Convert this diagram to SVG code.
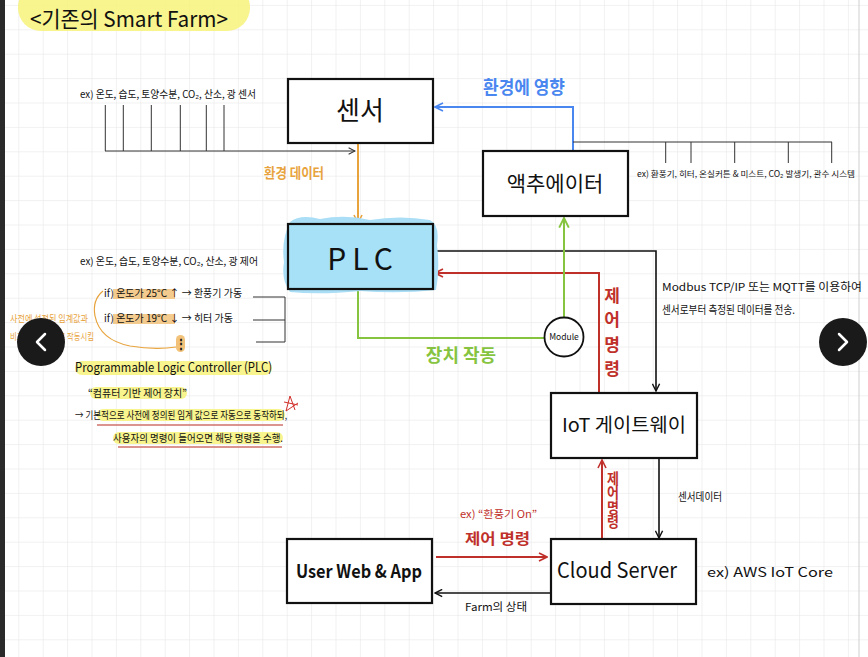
<svg xmlns="http://www.w3.org/2000/svg" width="868" height="657" viewBox="0 0 868 657">
<defs>
<pattern id="grid" x="18.3" y="4.9" width="24.4" height="24.4" patternUnits="userSpaceOnUse">
<path d="M0 0 H24.4 M0 0 V24.4" fill="none" stroke="#e4e4e4" stroke-width="1"/>
</pattern>
<marker id="aBlack" viewBox="0 0 10 10" refX="9" refY="5" markerWidth="9" markerHeight="9" markerUnits="userSpaceOnUse" orient="auto"><path d="M1,1 L9,5 L1,9" fill="none" stroke="#111" stroke-width="1.6"/></marker>
<marker id="aGray" viewBox="0 0 10 10" refX="9" refY="5" markerWidth="8" markerHeight="8" markerUnits="userSpaceOnUse" orient="auto"><path d="M1,1 L9,5 L1,9" fill="none" stroke="#333" stroke-width="1.3"/></marker>
<marker id="aRed" viewBox="0 0 10 10" refX="9" refY="5" markerWidth="10" markerHeight="10" markerUnits="userSpaceOnUse" orient="auto"><path d="M1,1 L9,5 L1,9" fill="none" stroke="#c0302a" stroke-width="1.6"/></marker>
<marker id="aBlue" viewBox="0 0 10 10" refX="9" refY="5" markerWidth="10" markerHeight="10" markerUnits="userSpaceOnUse" orient="auto"><path d="M1,1 L9,5 L1,9" fill="none" stroke="#4a86f0" stroke-width="1.6"/></marker>
<marker id="aOrange" viewBox="0 0 10 10" refX="9" refY="5" markerWidth="10" markerHeight="10" markerUnits="userSpaceOnUse" orient="auto"><path d="M1,1 L9,5 L1,9" fill="none" stroke="#e8a33d" stroke-width="1.6"/></marker>
<marker id="aGreen" viewBox="0 0 10 10" refX="9" refY="5" markerWidth="12" markerHeight="12" markerUnits="userSpaceOnUse" orient="auto"><path d="M1,1 L9,5 L1,9" fill="none" stroke="#86c440" stroke-width="1.6"/></marker>
</defs>
<style>
text{font-family:"Noto Sans CJK KR","Liberation Sans",sans-serif;fill:#111}
.box{fill:#fff;stroke:#111;stroke-width:2.2}
.big{text-anchor:middle}
.sm{font-size:10px}
.thin{fill:none;stroke:#333;stroke-width:1}
.hl{fill:#f7f27a;opacity:0.85}
.red{fill:#c0302a}
.orange{fill:#e8a33d}
.vert{writing-mode:vertical-rl}
</style>
<rect width="868" height="657" fill="#fff"/>
<rect width="868" height="657" fill="url(#grid)"/>
<rect x="0" y="0" width="5" height="657" fill="#2a2a2a"/>
<line x1="859" y1="0" x2="859" y2="657" stroke="#cfcfcf" stroke-width="1"/>

<!-- title -->
<g id="title">
<rect x="18" y="-16" width="232" height="47" rx="23" fill="#f7f27a" opacity="0.85"/>
<text x="30" y="27" font-size="22" textLength="198" lengthAdjust="spacingAndGlyphs">&lt;기존의 Smart Farm&gt;</text>
</g>

<!-- connectors -->
<g id="connectors" fill="none">
<polyline points="105,151 355,151" stroke="#333" stroke-width="1" marker-end="url(#aGray)"/>
<line x1="358" y1="143" x2="358" y2="223" stroke="#e8a33d" stroke-width="2" marker-end="url(#aOrange)"/>
<polyline points="573,151 573,107 435,107" stroke="#4a86f0" stroke-width="2" marker-end="url(#aBlue)"/>
<polyline points="433,251 656,251 656,391" stroke="#111" stroke-width="1.6" marker-end="url(#aBlack)"/>
<polyline points="599,393 599,273 435,273" stroke="#c0302a" stroke-width="2" marker-end="url(#aRed)"/>
<polyline points="358,289 358,338 544,338" stroke="#86c440" stroke-width="2"/>
<line x1="564" y1="317" x2="564" y2="218" stroke="#86c440" stroke-width="2" marker-end="url(#aGreen)"/>
<line x1="659" y1="458" x2="659" y2="538" stroke="#111" stroke-width="1.6" marker-end="url(#aBlack)"/>
<line x1="602" y1="538" x2="602" y2="460" stroke="#c0302a" stroke-width="2" marker-end="url(#aRed)"/>
<line x1="436" y1="557" x2="547" y2="557" stroke="#c0302a" stroke-width="2" marker-end="url(#aRed)"/>
<line x1="551" y1="593" x2="435" y2="593" stroke="#111" stroke-width="1.6" marker-end="url(#aBlack)"/>
</g>

<!-- sensor examples bracket -->
<g id="sensor-examples" class="thin">
<path d="M105.3 105 V151 M123.3 105 V151 M151.3 105 V151 M180.3 105 V151 M206.3 105 V151 M224 105 V151"/>
</g>
<text class="sm" x="80" y="98" textLength="176" lengthAdjust="spacingAndGlyphs">ex) 온도, 습도, 토양수분, CO₂, 산소, 광 센서</text>
<text x="264" y="178" font-size="14" font-weight="bold" class="orange" textLength="60" lengthAdjust="spacingAndGlyphs">환경 데이터</text>
<text x="483" y="94" font-size="18" font-weight="bold" style="fill:#4a86f0" textLength="82" lengthAdjust="spacingAndGlyphs">환경에 영향</text>

<!-- actuator examples bracket -->
<g id="actuator-examples" class="thin">
<path d="M573 142 H832 M665.7 142 V163 M691 142 V163 M734.7 142 V163 M788.3 142 V163 M831.7 142 V163"/>
</g>
<text x="637" y="177" font-size="8.5" textLength="218" lengthAdjust="spacingAndGlyphs">ex) 환풍기, 히터, 온실커튼 &amp; 미스트, CO₂ 발생기, 관수 시스템</text>

<!-- nodes -->
<g id="sensor">
<rect class="box" x="288" y="79" width="145" height="64"/>
<text class="big" x="360" y="120" font-size="26">센서</text>
</g>
<g id="actuator">
<rect class="box" x="483" y="151" width="145" height="65"/>
<text class="big" x="555" y="191" font-size="21">액추에이터</text>
</g>
<g id="plc">
<path d="M290 222 Q300 214 320 219 Q345 214 370 220 Q400 215 430 220 Q440 225 437 245 Q440 270 436 290 Q400 294 360 291 Q320 295 290 292 Q281 280 284 262 Q281 240 290 222 Z" fill="#a9def6"/>
<rect x="288" y="224" width="145" height="65" fill="#a6e1f8" stroke="#111" stroke-width="2.2"/>
<text class="big" x="363" y="270" font-size="30" letter-spacing="6">PLC</text>
</g>
<g id="module">
<circle cx="564" cy="337" r="19.5" fill="#fff" stroke="#111" stroke-width="1.8"/>
<text x="564" y="340" font-size="8.5" text-anchor="middle">Module</text>
</g>
<g id="gateway">
<rect class="box" x="551" y="393" width="146" height="65"/>
<text class="big" x="624" y="432" font-size="19" textLength="124" lengthAdjust="spacingAndGlyphs">IoT 게이트웨이</text>
</g>
<g id="cloud">
<rect class="box" x="551" y="539" width="145" height="65"/>
<text class="big" x="617" y="578" font-size="21" textLength="120" lengthAdjust="spacingAndGlyphs">Cloud Server</text>
</g>
<g id="userapp">
<rect class="box" x="287" y="539" width="145" height="64"/>
<text class="big" x="359" y="578" font-size="18" font-weight="bold" textLength="126" lengthAdjust="spacingAndGlyphs">User Web &amp; App</text>
</g>

<!-- connector labels -->
<g id="labels">
<text x="461" y="362" font-size="18" font-weight="bold" style="fill:#86c440" text-anchor="middle">장치 작동</text>
<text class="red vert" x="612" y="287" font-size="17" font-weight="bold" textLength="90" lengthAdjust="spacing">제어명령</text>
<text class="red vert" x="613" y="471" font-size="13" font-weight="bold" textLength="58" lengthAdjust="spacingAndGlyphs">제어명령</text>
<text x="678" y="501" font-size="11" textLength="44" lengthAdjust="spacingAndGlyphs">센서데이터</text>
<text class="red" x="460" y="518" font-size="10.5" textLength="77" lengthAdjust="spacingAndGlyphs">ex) “환풍기 On”</text>
<text class="red" x="465" y="544" font-size="15" font-weight="bold" textLength="65" lengthAdjust="spacingAndGlyphs">제어 명령</text>
<text x="465" y="611" font-size="11" textLength="62" lengthAdjust="spacingAndGlyphs">Farm의 상태</text>
<text x="707" y="577" font-size="13" textLength="126" lengthAdjust="spacingAndGlyphs">ex) AWS IoT Core</text>
<text x="662" y="291" font-size="11" textLength="200" lengthAdjust="spacingAndGlyphs">Modbus TCP/IP 또는 MQTT를 이용하여</text>
<text x="662" y="314" font-size="11" textLength="133" lengthAdjust="spacingAndGlyphs">센서로부터 측정된 데이터를 전송.</text>
</g>

<!-- PLC annotations -->
<g id="plc-notes">
<text class="sm" x="80" y="265" textLength="178" lengthAdjust="spacingAndGlyphs">ex) 온도, 습도, 토양수분, CO₂, 산소, 광 제어</text>
<rect x="113" y="289" width="62" height="10" fill="#f2c27a" opacity="0.85"/>
<rect x="113" y="314" width="62" height="10" fill="#f2c27a" opacity="0.85"/>
<text x="104" y="297" font-size="10">if) 온도가 25°C ↑  →  환풍기 가동</text>
<text x="104" y="322" font-size="10">if) 온도가 19°C ↓  →  히터 가동</text>
<rect x="176" y="335" width="9" height="17" rx="4.5" fill="#f2c27a"/>
<text x="180.5" y="348" font-size="12" font-weight="bold" text-anchor="middle">⋮</text>
<path d="M103 291 Q92 300 95 316 Q100 340 130 346 Q155 350 176 347" fill="none" stroke="#e8a33d" stroke-width="1.2"/>
<path d="M253 297 H285 M253 320 H285 M256 342 H285 M285 297 V342" fill="none" stroke="#333" stroke-width="1"/>
<text class="orange" x="10" y="322" font-size="9.5" textLength="78" lengthAdjust="spacingAndGlyphs">사전에 설정된 임계값과</text>
<text class="orange" x="10" y="340" font-size="9.5" textLength="84" lengthAdjust="spacingAndGlyphs">비교하여 자동으로 작동시킴</text>
</g>

<g id="plc-description">
<rect class="hl" x="75" y="361" width="197" height="14" rx="7"/>
<text x="75" y="372" font-size="13" textLength="197" lengthAdjust="spacingAndGlyphs">Programmable Logic Controller (PLC)</text>
<rect class="hl" x="90" y="387" width="97" height="12" rx="6"/>
<text x="88" y="397" font-size="10.5" textLength="99" lengthAdjust="spacingAndGlyphs">“컴퓨터 기반 제어 장치”</text>
<rect class="hl" x="97" y="409" width="188" height="12" rx="6"/>
<text x="75" y="419" font-size="10.5" textLength="212" lengthAdjust="spacingAndGlyphs">→  기본적으로 사전에 정의된 임계 값으로 자동으로 동작하되,</text>
<line x1="97" y1="425" x2="283" y2="425" stroke="#d0706a" stroke-width="1.5"/>
<rect class="hl" x="113" y="432" width="170" height="12" rx="6"/>
<text x="113" y="442" font-size="10.5" textLength="170" lengthAdjust="spacingAndGlyphs">사용자의 명령이 들어오면 해당 명령을 수행.</text>
<line x1="118" y1="447" x2="282" y2="447" stroke="#d0706a" stroke-width="1.5"/>
<path d="M290 396 L286 411 M290 396 L295 410 M284 402 L298 405 M286 411 L298 403" fill="none" stroke="#d2302a" stroke-width="1"/>
</g>

<!-- viewer nav buttons -->
<g id="nav-left">
<circle cx="41" cy="342" r="24" fill="#1a1a1a"/>
<path d="M45 334 L37 342 L45 350" fill="none" stroke="#fff" stroke-width="2.5" stroke-linecap="round" stroke-linejoin="round"/>
</g>
<g id="nav-right">
<circle cx="843" cy="342" r="24" fill="#1a1a1a"/>
<path d="M839 334 L847 342 L839 350" fill="none" stroke="#fff" stroke-width="2.5" stroke-linecap="round" stroke-linejoin="round"/>
</g>
</svg>
